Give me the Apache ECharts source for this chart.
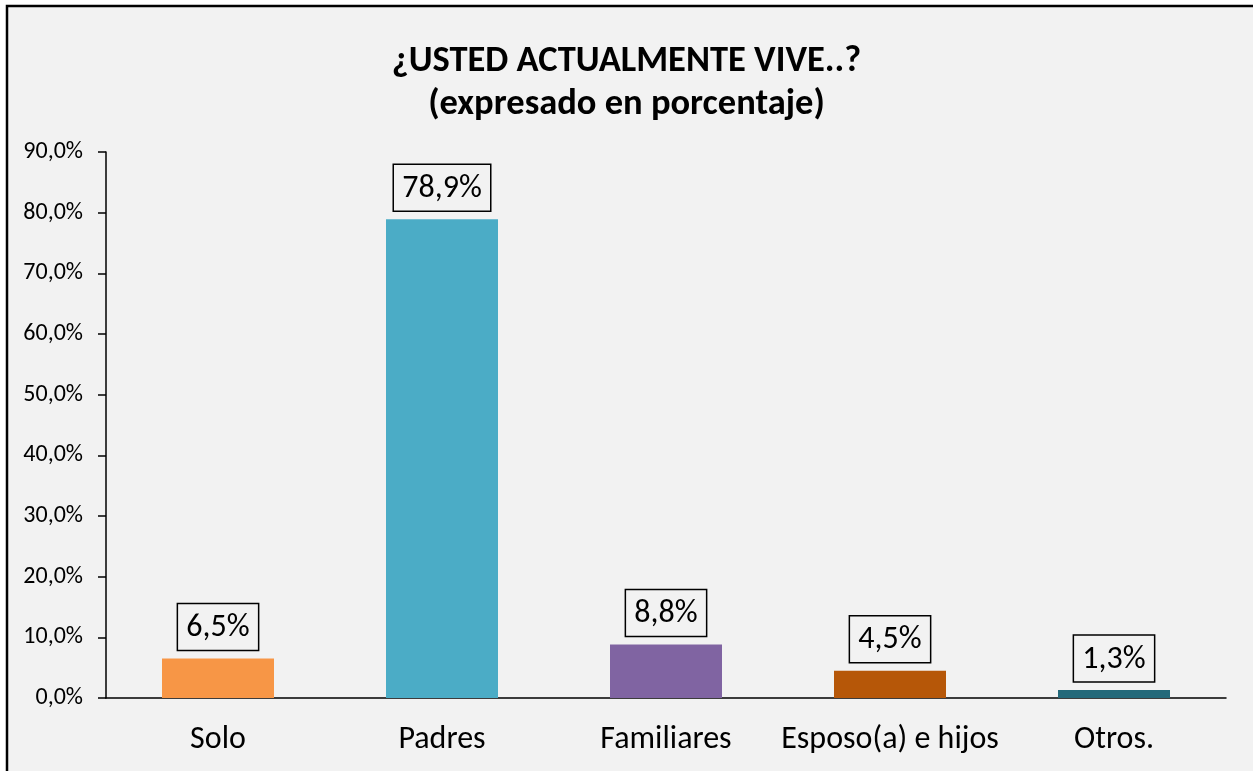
<!DOCTYPE html>
<html>
<head>
<meta charset="utf-8">
<script src="https://cdn.jsdelivr.net/npm/echarts@6/dist/echarts.min.js"></script>
<style>
  html, body { margin: 0; padding: 0; background: #fff; }
  #chart { width: 1253px; height: 771px; }
</style>
</head>
<body>
<div id="chart"></div>
<script>
// datos
var categories = ['Solo', 'Padres', 'Familiares', 'Esposo(a) e hijos', 'Otros.'];
var values = [6.5, 78.9, 8.8, 4.5, 1.3];
var barColors = ['#F79646', '#4BACC6', '#8064A2', '#B65708', '#23697A'];
var yTicks = [0, 10, 20, 30, 40, 50, 60, 70, 80, 90];

var FONT = 'Carlito, Lato, sans-serif';
var fmt = function (v) { return v.toFixed(1).replace('.', ','); };

var chart = echarts.init(document.getElementById('chart'));
chart.setOption({
  animation: false,
  backgroundColor: '#fff',
  graphic: [{
    type: 'rect',
    z: -10,
    shape: { x: 7, y: 6, width: 1300, height: 820 },
    style: { fill: '#F2F2F2', stroke: '#000', lineWidth: 2.5 },
    silent: true
  }],
  title: {
    text: '¿USTED ACTUALMENTE VIVE..?\n(expresado en porcentaje)',
    left: 'center',
    top: 35,
    textStyle: {
      fontFamily: FONT,
      fontSize: 36.5,
      fontWeight: 'bold',
      color: '#000',
      lineHeight: 43
    }
  },
  grid: { left: 106, right: 27, top: 152, bottom: 73, containLabel: false },
  xAxis: {
    type: 'category',
    data: categories,
    axisTick: { show: false },
    axisLine: { lineStyle: { color: '#000', width: 1.5 } },
    axisLabel: { fontFamily: FONT, fontSize: 32, color: '#000', margin: 26, interval: 0 }
  },
  yAxis: {
    type: 'value',
    min: yTicks[0],
    max: yTicks[yTicks.length - 1],
    interval: 10,
    splitLine: { show: false },
    axisLine: { show: true, lineStyle: { color: '#000', width: 1.5 } },
    axisTick: { show: true, length: 8, lineStyle: { color: '#000', width: 1.5 } },
    axisLabel: {
      fontFamily: FONT, fontSize: 24, color: '#000', margin: 23,
      formatter: function (v) { return fmt(v) + '%'; }
    }
  },
  series: [{
    type: 'bar',
    barWidth: '50%',
    data: values.map(function (v, i) {
      return { value: v, itemStyle: { color: barColors[i] } };
    }),
    label: {
      show: true,
      position: 'top',
      distance: 8,
      fontFamily: FONT,
      fontSize: 32,
      lineHeight: 31,
      color: '#000',
      borderColor: '#000',
      borderWidth: 1.5,
      padding: [9, 9, 7, 9],
      formatter: function (p) { return fmt(p.value) + '%'; }
    }
  }]
});
</script>
</body>
</html>
